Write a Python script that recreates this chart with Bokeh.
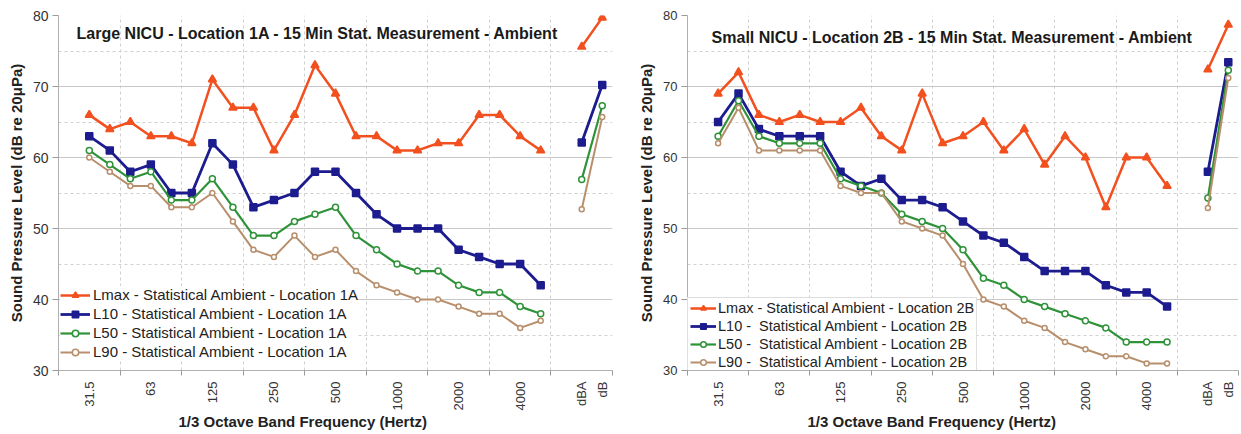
import numpy as np
from bokeh.plotting import figure
from bokeh.layouts import row
from bokeh.models import FixedTicker, Label, Legend, LegendItem, Title, Range1d
from bokeh.embed import file_html
from bokeh.resources import INLINE

FONT = "Liberation Sans"

# ---------------- data ----------------
bands = ["31.5", "40", "50", "63", "80", "100", "125", "160", "200", "250", "315", "400",
         "500", "630", "800", "1000", "1250", "1600", "2000", "2500", "3150", "4000", "5000"]
overall = ["dBA", "dB"]
# category slots: empty slot before 31.5, gap slot before the overall levels
categories = [""] + bands + [" "] + overall
shown_labels = ["31.5", "63", "125", "250", "500", "1000", "2000", "4000", "dBA", "dB"]

lmax_1a = [66, 64, 65, 63, 63, 62, 71, 67, 67, 61, 66, 73, 69, 63, 63, 61, 61, 62, 62, 66, 66, 63, 61]
l10_1a = [63, 61, 58, 59, 55, 55, 62, 59, 53, 54, 55, 58, 58, 55, 52, 50, 50, 50, 47, 46, 45, 45, 42]
l50_1a = [61, 59, 57, 58, 54, 54, 57, 53, 49, 49, 51, 52, 53, 49, 47, 45, 44, 44, 42, 41, 41, 39, 38]
l90_1a = [60, 58, 56, 56, 53, 53, 55, 51, 47, 46, 49, 46, 47, 44, 42, 41, 40, 40, 39, 38, 38, 36, 37]
lmax_1a_overall = [75.6, 79.7]
l10_1a_overall = [62.1, 70.2]
l50_1a_overall = [56.9, 67.3]
l90_1a_overall = [52.7, 65.7]

lmax_2b = [69, 72, 66, 65, 66, 65, 65, 67, 63, 61, 69, 62, 63, 65, 61, 64, 59, 63, 60, 53, 60, 60, 56]
l10_2b = [65, 69, 64, 63, 63, 63, 58, 56, 57, 54, 54, 53, 51, 49, 48, 46, 44, 44, 44, 42, 41, 41, 39]
l50_2b = [63, 68, 63, 62, 62, 62, 57, 56, 55, 52, 51, 50, 47, 43, 42, 40, 39, 38, 37, 36, 34, 34, 34]
l90_2b = [62, 67, 61, 61, 61, 61, 56, 55, 55, 51, 50, 49, 45, 40, 39, 37, 36, 34, 33, 32, 32, 31, 31]
lmax_2b_overall = [72.4, 78.7]
l10_2b_overall = [58.0, 73.4]
l50_2b_overall = [54.3, 72.3]
l90_2b_overall = [52.9, 71.2]

title_1a = "Large NICU - Location 1A - 15 Min Stat. Measurement - Ambient"
title_2b = "Small NICU - Location 2B - 15 Min Stat. Measurement - Ambient"
legend_1a = ["Lmax - Statistical Ambient - Location 1A",
             "L10 - Statistical Ambient - Location 1A",
             "L50 - Statistical Ambient - Location 1A",
             "L90 - Statistical Ambient - Location 1A"]
legend_2b = ["Lmax - Statistical Ambient - Location 2B",
             "L10 -  Statistical Ambient - Location 2B",
             "L50 -  Statistical Ambient - Location 2B",
             "L90 -  Statistical Ambient - Location 2B"]
y_ticks = [30, 40, 50, 60, 70, 80]
y_minor = [35, 45, 55, 65, 75]

# ---------------- styles ----------------
styles = [
    dict(color="#F2501F", marker="triangle", size=8, fill="#F2501F", lw=2.5),
    dict(color="#1C1C8F", marker="square", size=7, fill="#1C1C8F", lw=2.8),
    dict(color="#2E9238", marker="circle", size=6, fill="white", lw=2.2),
    dict(color="#B88F6C", marker="circle", size=5, fill="white", lw=2.0),
]


def series_y(band_vals, overall_vals):
    y = np.full(len(categories), np.nan)
    for lab, v in zip(bands, band_vals):
        y[categories.index(lab)] = v
    for lab, v in zip(overall, overall_vals):
        y[categories.index(lab)] = v
    return y


def make_panel(title, labels, data, width, mb_left, mb_right, title_xy, legend_cfg, ytick_size):
    p = figure(width=width, height=434, output_backend="svg", toolbar_location=None,
               x_range=Range1d(-0.5, len(categories) - 0.5), y_range=Range1d(30, 80),
               min_border_left=mb_left, min_border_right=mb_right,
               min_border_top=15, min_border_bottom=64)
    p.outline_line_color = None
    p.background_fill_color = "white"
    p.border_fill_color = "white"

    xs = np.arange(len(categories))
    bounds = [-0.5 + 3 * k for k in range(len(categories) // 3 + 1)]
    label_pos = {categories.index(l): l for l in shown_labels}

    # x axis
    p.xaxis.ticker = FixedTicker(ticks=list(label_pos.keys()), minor_ticks=bounds)
    p.xaxis.major_label_overrides = label_pos
    p.xaxis.major_label_orientation = np.pi / 2
    p.xaxis.major_tick_line_color = None
    p.xaxis.major_tick_out = 5
    p.xaxis.major_tick_in = 0
    p.xaxis.major_label_standoff = 6
    p.xaxis.minor_tick_line_color = "#9a9a9a"
    p.xaxis.minor_tick_out = 5
    p.xaxis.minor_tick_in = 0
    p.xaxis.axis_line_color = "#b0b0b0"
    p.xaxis.major_label_text_font = FONT
    p.xaxis.major_label_text_font_size = "13px"
    p.xaxis.major_label_text_color = "#333333"
    p.add_layout(Title(text="1/3 Octave Band Frequency (Hertz)", align="left", offset=120,
                       standoff=-6, text_font=FONT, text_font_size="15px",
                       text_font_style="bold", text_color="#222222"), "below")

    # y axis
    p.yaxis.ticker = FixedTicker(ticks=y_ticks, minor_ticks=y_minor)
    p.yaxis.axis_label = "Sound Pressure Level (dB re 20\u03bcPa)"
    p.yaxis.axis_label_text_font = FONT
    p.yaxis.axis_label_text_font_size = "15px"
    p.yaxis.axis_label_text_font_style = "bold"
    p.yaxis.axis_label_text_color = "#222222"
    p.yaxis.axis_label_standoff = 5
    p.yaxis.major_label_text_font = FONT
    p.yaxis.major_label_text_font_size = ytick_size
    p.yaxis.major_label_text_color = "#333333"
    p.yaxis.major_tick_out = 6
    p.yaxis.major_tick_in = 0
    p.yaxis.major_label_standoff = 4
    p.yaxis.major_tick_line_color = "#9a9a9a"
    p.yaxis.minor_tick_line_color = None
    p.yaxis.axis_line_color = "#b0b0b0"

    # grids
    p.xgrid.ticker = FixedTicker(ticks=bounds)
    p.xgrid.grid_line_color = "#cfcfcf"
    p.xgrid.grid_line_dash = "3 3"
    p.xgrid.grid_line_width = 1
    p.ygrid.grid_line_color = "#c8c8c8"
    p.ygrid.grid_line_width = 1
    p.ygrid.minor_grid_line_color = "#d0d0d0"
    p.ygrid.minor_grid_line_dash = "3 3"

    items = []
    for lab, (bvals, ovals), st in zip(labels, data, styles):
        y = series_y(bvals, ovals)
        lr = p.line(xs, y, line_color=st["color"], line_width=st["lw"])
        sr = p.scatter(xs, y, marker=st["marker"], size=st["size"], line_color=st["color"],
                       fill_color=st["fill"], line_width=1.5)
        items.append(LegendItem(label=lab, renderers=[lr, sr]))

    leg = Legend(items=items, **legend_cfg)
    leg.label_text_font = FONT
    leg.label_text_color = "#222222"
    leg.background_fill_color = "white"
    leg.background_fill_alpha = 1.0
    leg.margin = 0
    p.add_layout(leg, "center")

    p.add_layout(Label(x=title_xy[0], y=title_xy[1], text=title, text_font=FONT,
                       text_font_size="16px", text_font_style="bold", text_color="#1a1a1a",
                       text_baseline="middle", text_align="left"))
    return p


p1 = make_panel(title_1a, legend_1a,
                [(lmax_1a, lmax_1a_overall), (l10_1a, l10_1a_overall),
                 (l50_1a, l50_1a_overall), (l90_1a, l90_1a_overall)],
                width=620, mb_left=58, mb_right=8, title_xy=(0.38, 77.5),
                legend_cfg=dict(location=(2, 10), border_line_color=None, padding=4,
                                spacing=2, glyph_width=30, glyph_height=16, label_height=16,
                                label_standoff=3, label_text_font_size="15px"),
                ytick_size="14px")
p2 = make_panel(title_2b, legend_2b,
                [(lmax_2b, lmax_2b_overall), (l10_2b, l10_2b_overall),
                 (l50_2b, l50_2b_overall), (l90_2b, l90_2b_overall)],
                width=621, mb_left=67, mb_right=3, title_xy=(0.68, 76.9),
                legend_cfg=dict(location=(0, -3), border_line_color="#bdbdbd", padding=2,
                                spacing=2, glyph_width=26, glyph_height=14, label_height=14,
                                label_standoff=2, label_text_font_size="14.5px"),
                ytick_size="13px")

layout = row(p1, p2)
open("out.html", "w").write(file_html(layout, INLINE))
